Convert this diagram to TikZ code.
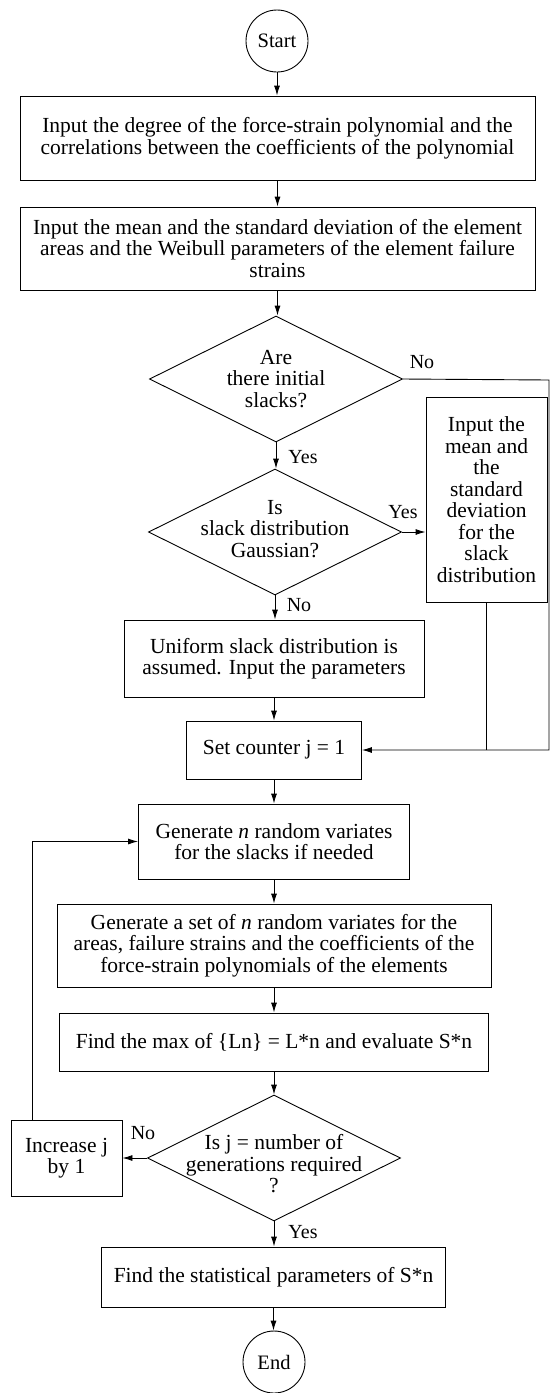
\documentclass[tikz,border=0pt]{standalone}
\usepackage{fontspec}
\setmainfont{Liberation Serif}
\usetikzlibrary{shapes.geometric,arrows.meta,calc}
\begin{document}
\begin{tikzpicture}[x=1pt,y=-1pt,
  line width=0.9pt,
  txt/.style={font=\fontsize{21.5}{21.5}\selectfont, align=center},
  box/.style={draw, rectangle, inner sep=0pt, txt},
  term/.style={draw, circle, minimum size=62pt, inner sep=0pt, font=\fontsize{20.5}{21.5}\selectfont},
  dia/.style={draw, diamond, inner sep=0pt, minimum width=253pt, minimum height=126pt},
  lab/.style={font=\fontsize{20}{21}\selectfont, inner sep=0pt},
  arr/.style={-{Latex[length=10pt,width=6pt]}}
]
\useasboundingbox (0,0) rectangle (552,1393);

\node[term] (start) at (277,41) {Start};
\node[box, minimum width=515pt, minimum height=84pt] (b1) at (277.5,138)
  {Input the degree of the force-strain polynomial and the\\correlations between the coefficients of the polynomial};
\node[box, minimum width=515pt, minimum height=83pt] (b2) at (277.5,248.5)
  {Input the mean and the standard deviation of the element\\areas and the Weibull parameters of the element failure\\strains};
\node[dia] (d1) at (276,379) {};
\node[txt] (t1) at (d1) {Are\\there initial\\slacks?};
\node[dia] (d2) at (275,532) {};
\node[txt] (t2) at ($(d2)+(0,-3)$) {Is\\slack distribution\\Gaussian?};
\node[box, minimum width=121pt, minimum height=205pt] (rb) at (486.5,499.5)
  {Input the\\mean and\\the\\standard\\deviation\\for the\\slack\\distribution};
\node[box, minimum width=300pt, minimum height=77pt] (uni) at (274,658.5)
  {Uniform slack distribution is\\assumed. Input the parameters};
\node[box, minimum width=175pt, minimum height=58pt] (set) at (274,750)
  {Set counter j = 1};
\node[box, minimum width=271pt, minimum height=75pt] (gen1) at (274,841.5)
  {Generate \textit{n} random variates\\for the slacks if needed};
\node[box, minimum width=434pt, minimum height=83pt] (gen2) at (274,945.5)
  {Generate a set of \textit{n} random variates for the\\areas, failure strains and the coefficients of the\\force-strain polynomials of the elements};
\node[box, minimum width=429pt, minimum height=58pt] (find) at (274,1042)
  {Find the max of \{Ln\} = L*n and evaluate S*n};
\node[dia] (d3) at (274,1158) {};
\node[txt] (t3) at ($(d3)+(0,6)$) {Is j = number of\\generations required\\?};
\node[box, minimum width=111pt, minimum height=76pt] (inc) at (66.5,1158)
  {Increase j\\by 1};
\node[box, minimum width=344pt, minimum height=60pt] (fin) at (273.5,1277)
  {Find the statistical parameters of S*n};
\node[term] (end) at (274,1362) {End};

\coordinate (cR) at (549,380);
\coordinate (lp) at (32,1120);

\draw[arr] (start) -- (start |- b1.north);
\draw[arr] (b1) -- (b1 |- b2.north);
\draw[arr] (b2) -- (b2 |- d1.north);
\draw[arr] (d1) -- (d1 |- d2.north);
\draw[arr] (d1.east) -- (cR) |- (set.east);
\draw[arr] (d2.east) -- (d2.east -| rb.west);
\draw (rb.south) -- (rb.south |- set.east);
\draw[arr] (d2) -- (d2 |- uni.north);
\draw[arr] (uni) -- (uni |- set.north);
\draw[arr] (set) -- (set |- gen1.north);
\draw[arr] (gen1) -- (gen1 |- gen2.north);
\draw[arr] (gen2) -- (gen2 |- find.north);
\draw[arr] (find) -- (find |- d3.north);
\draw[arr] (d3.west) -- (inc.east |- d3.west);
\draw[arr] (lp) |- (gen1.west);
\draw[arr] (d3) -- (d3 |- fin.north);
\draw[arr] (fin) -- (fin |- end.north);

\node[lab] (n1) at (422,362) {No};
\node[lab] (y1) at (303,457) {Yes};
\node[lab] (y2) at (403,512) {Yes};
\node[lab] (n2) at (299,605) {No};
\node[lab] (n3) at (143,1133) {No};
\node[lab] (y3) at (303,1232) {Yes};
\end{tikzpicture}
\end{document}
